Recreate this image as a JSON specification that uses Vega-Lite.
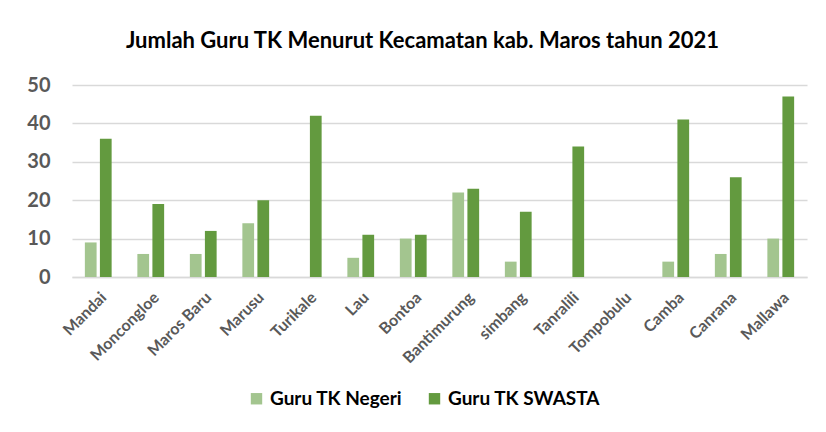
{
  "$schema": "https://vega.github.io/schema/vega-lite/v6.json",
  "width": 735,
  "height": 192,
  "autosize": {"type": "none"},
  "padding": {"left": 72, "top": 85, "right": 19, "bottom": 155},
  "background": "white",
  "title": {
    "text": "Jumlah Guru TK Menurut Kecamatan kab. Maros tahun 2021",
    "font": "Lato",
    "fontSize": 22,
    "fontWeight": "bold",
    "color": "#000000",
    "anchor": "middle",
    "dx": -17,
    "offset": 22
  },
  "data": {
    "values": [
      {"kecamatan": "Mandai", "jenis": "Guru TK Negeri", "jumlah": 9},
      {"kecamatan": "Mandai", "jenis": "Guru TK SWASTA", "jumlah": 36},
      {"kecamatan": "Moncongloe", "jenis": "Guru TK Negeri", "jumlah": 6},
      {"kecamatan": "Moncongloe", "jenis": "Guru TK SWASTA", "jumlah": 19},
      {"kecamatan": "Maros Baru", "jenis": "Guru TK Negeri", "jumlah": 6},
      {"kecamatan": "Maros Baru", "jenis": "Guru TK SWASTA", "jumlah": 12},
      {"kecamatan": "Marusu", "jenis": "Guru TK Negeri", "jumlah": 14},
      {"kecamatan": "Marusu", "jenis": "Guru TK SWASTA", "jumlah": 20},
      {"kecamatan": "Turikale", "jenis": "Guru TK Negeri", "jumlah": 0},
      {"kecamatan": "Turikale", "jenis": "Guru TK SWASTA", "jumlah": 42},
      {"kecamatan": "Lau", "jenis": "Guru TK Negeri", "jumlah": 5},
      {"kecamatan": "Lau", "jenis": "Guru TK SWASTA", "jumlah": 11},
      {"kecamatan": "Bontoa", "jenis": "Guru TK Negeri", "jumlah": 10},
      {"kecamatan": "Bontoa", "jenis": "Guru TK SWASTA", "jumlah": 11},
      {"kecamatan": "Bantimurung", "jenis": "Guru TK Negeri", "jumlah": 22},
      {"kecamatan": "Bantimurung", "jenis": "Guru TK SWASTA", "jumlah": 23},
      {"kecamatan": "simbang", "jenis": "Guru TK Negeri", "jumlah": 4},
      {"kecamatan": "simbang", "jenis": "Guru TK SWASTA", "jumlah": 17},
      {"kecamatan": "Tanralili", "jenis": "Guru TK Negeri", "jumlah": 0},
      {"kecamatan": "Tanralili", "jenis": "Guru TK SWASTA", "jumlah": 34},
      {"kecamatan": "Tompobulu", "jenis": "Guru TK Negeri", "jumlah": 0},
      {"kecamatan": "Tompobulu", "jenis": "Guru TK SWASTA", "jumlah": 0},
      {"kecamatan": "Camba", "jenis": "Guru TK Negeri", "jumlah": 4},
      {"kecamatan": "Camba", "jenis": "Guru TK SWASTA", "jumlah": 41},
      {"kecamatan": "Canrana", "jenis": "Guru TK Negeri", "jumlah": 6},
      {"kecamatan": "Canrana", "jenis": "Guru TK SWASTA", "jumlah": 26},
      {"kecamatan": "Mallawa", "jenis": "Guru TK Negeri", "jumlah": 10},
      {"kecamatan": "Mallawa", "jenis": "Guru TK SWASTA", "jumlah": 47}
    ]
  },
  "mark": {"type": "bar"},
  "encoding": {
    "x": {
      "field": "kecamatan",
      "type": "nominal",
      "sort": null,
      "title": null,
      "scale": {"paddingInner": 0.49, "paddingOuter": 0.245},
      "axis": {
        "labelAngle": -45,
        "labelFont": "Lato",
        "labelFontSize": 16,
        "labelFontWeight": "bold",
        "labelColor": "#595959",
        "labelPadding": 12,
        "ticks": false,
        "domainColor": "#d9d9d9",
        "domainWidth": 1.5,
        "grid": false
      }
    },
    "xOffset": {
      "field": "jenis",
      "type": "nominal",
      "scale": {"paddingInner": 0.22, "paddingOuter": 0}
    },
    "y": {
      "field": "jumlah",
      "type": "quantitative",
      "title": null,
      "scale": {"domain": [0, 50], "nice": false},
      "axis": {
        "values": [0, 10, 20, 30, 40, 50],
        "labelFont": "Lato",
        "labelFontSize": 20,
        "labelFontWeight": "bold",
        "labelColor": "#595959",
        "labelPadding": 22,
        "ticks": false,
        "domain": false,
        "gridColor": "#d9d9d9",
        "gridWidth": 1.5
      }
    },
    "color": {
      "field": "jenis",
      "type": "nominal",
      "title": null,
      "scale": {
        "domain": ["Guru TK Negeri", "Guru TK SWASTA"],
        "range": ["#a3c58f", "#639a3f"]
      },
      "legend": {
        "orient": "none",
        "direction": "horizontal",
        "legendX": 175,
        "legendY": 304,
        "symbolType": "square",
        "symbolSize": 130,
        "symbolStrokeWidth": 0,
        "labelFont": "Lato",
        "labelFontSize": 19,
        "labelFontWeight": "bold",
        "labelColor": "#000000",
        "labelOffset": 4,
        "columnPadding": 22
      }
    }
  },
  "config": {"view": {"stroke": null}}
}
